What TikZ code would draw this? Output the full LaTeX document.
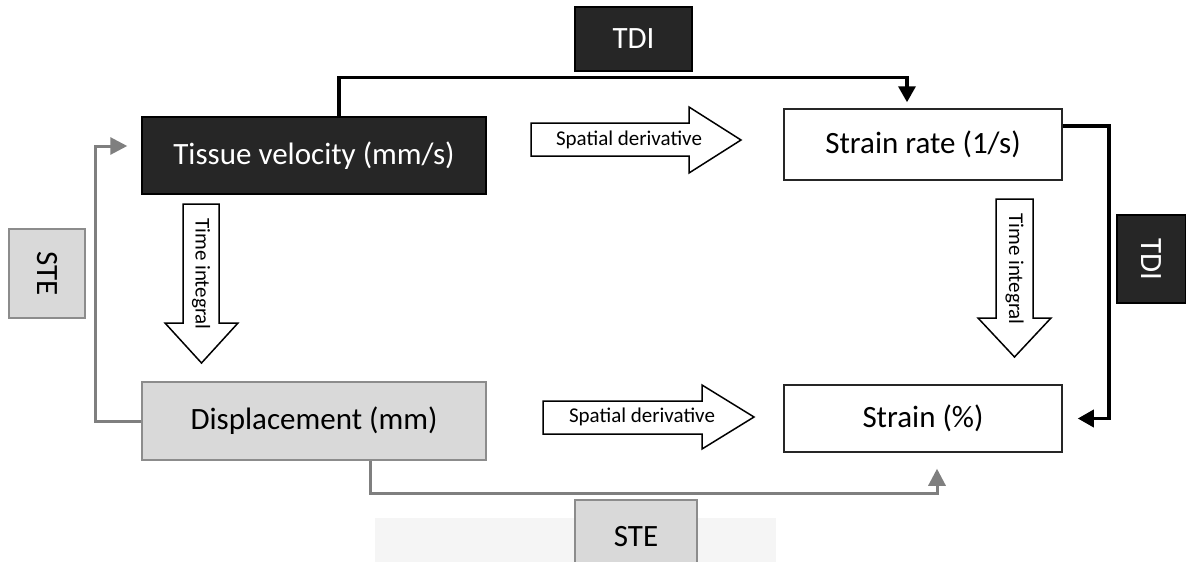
\documentclass[tikz,border=0pt]{standalone}
\usepackage{fontspec}
\setmainfont{Carlito}
\usetikzlibrary{arrows.meta}
\definecolor{darkfill}{HTML}{262626}
\definecolor{lightgray}{HTML}{D9D9D9}
\definecolor{graybord}{HTML}{8C8C8C}
\definecolor{grayline}{HTML}{7F7F7F}
\definecolor{faint}{HTML}{F5F5F5}
\tikzset{
  bigtxt/.style={font=\fontsize{31}{37}\selectfont},
  smalltxt/.style={font=\fontsize{21}{25}\selectfont, inner sep=0pt},
  darkbox/.style={draw=black, line width=1.5pt, fill=darkfill, text=white, bigtxt, inner sep=0pt},
  graybox/.style={draw=graybord, line width=1.5pt, fill=lightgray, text=black, bigtxt, inner sep=0pt},
  whitebox/.style={draw=black!85, line width=1.5pt, fill=white, text=black, bigtxt, inner sep=0pt},
  blockarrow/.style={draw=black, line width=1.5pt, fill=white, line join=miter},
  blackconn/.style={draw=black, line width=3.5pt, -{Triangle[length=16pt,width=17pt]}},
  grayconn/.style={draw=grayline, line width=3pt, -{Triangle[length=17pt,width=17pt]}},
}
\begin{document}
\begin{tikzpicture}[x=1pt, y=-1pt]
\useasboundingbox (0,0) rectangle (1186,562);
\clip (0,0) rectangle (1186,562);
\fill[white] (0,0) rectangle (1186,562);
% faint background picture fragment
\fill[faint] (375,518) rectangle (776,562);

% boxes
\node[darkbox, minimum width=344pt, minimum height=77pt] (tv) at (314,155.5) {Tissue velocity (mm/s)};
\node[graybox, minimum width=344pt, minimum height=78pt] (dp) at (314,421) {Displacement (mm)};
\node[whitebox, minimum width=278pt, minimum height=71pt] (sr) at (923,144.5) {Strain rate (1/s)};
\node[whitebox, minimum width=278pt, minimum height=67pt] (st) at (923,418.5) {Strain (\%)};

% method labels
\node[darkbox, minimum width=117pt, minimum height=64pt] (tdiT) at (633.5,39) {TDI};
\node[darkbox, rotate=-90, minimum width=88pt, minimum height=69pt] (tdiR) at (1151.5,259) {TDI};
\node[graybox, rotate=-90, minimum width=89pt, minimum height=76pt] (steL) at (47,273.5) {STE};
\node[graybox, minimum width=122pt, minimum height=74pt] (steB) at (636,537) {STE};

% block arrows
\draw[blockarrow] (531,123) -- (689,123) -- (689,107) -- (741,140) -- (689,173) -- (689,156) -- (531,156) -- cycle;
\node[smalltxt] (sd1) at (629,140) {Spatial derivative};
\draw[blockarrow] (543,401) -- (702,401) -- (702,385) -- (754,417) -- (702,449) -- (702,434) -- (543,434) -- cycle;
\node[smalltxt] (sd2) at (642,417) {Spatial derivative};
\draw[blockarrow] (183,204) -- (219,204) -- (219,323) -- (238,323) -- (201.5,363) -- (165,323) -- (183,323) -- cycle;
\node[smalltxt, rotate=-90] (ti1) at (201,274) {Time integral};
\draw[blockarrow] (996,199) -- (1033,199) -- (1033,318) -- (1051,318) -- (1014.5,357) -- (978,318) -- (996,318) -- cycle;
\node[smalltxt, rotate=-90] (ti2) at (1014.5,269) {Time integral};

% connectors
\draw[blackconn] ([xshift=25pt]tv.north) -- ++(0,-39) -| ([xshift=-16pt,yshift=6pt]sr.north);
\draw[blackconn] ([yshift=18.5pt]sr.east) -- ++(46,0) |- ([xshift=15pt]st.east);
\draw[grayconn] (dp.west) -- ++(-46,0) |- ([xshift=-14pt,yshift=9.5pt]tv.west);
\draw[grayconn] ([xshift=56pt]dp.south) -- ++(0,33) -| ([xshift=14pt,yshift=-16pt]st.south);
\end{tikzpicture}
\end{document}
